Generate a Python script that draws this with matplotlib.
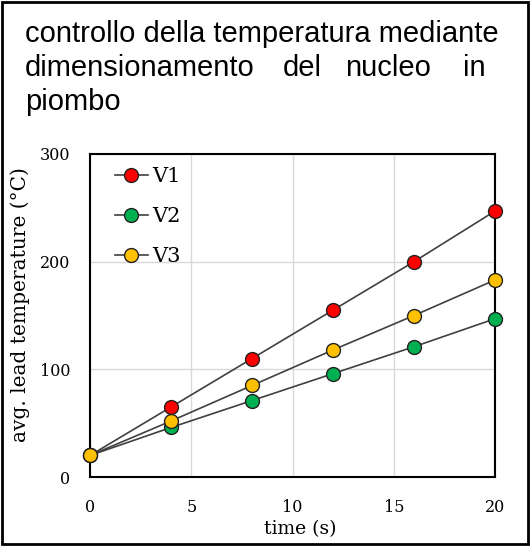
import matplotlib.pyplot as plt
from matplotlib.patches import Rectangle

# data
time_s = [0, 4, 8, 12, 16, 20]
v1 = [20, 65, 110, 155, 200, 247]
v2 = [20, 46, 71, 96, 121, 147]
v3 = [20, 52, 85, 118, 150, 183]
series_labels = ['V1', 'V2', 'V3']
series_colors = ['#FF0000', '#00B050', '#FFC000']

fig = plt.figure(figsize=(5.30, 5.46), dpi=100)

# outer frame
fig.patches.append(Rectangle((0.004, 0.003), 0.992, 0.994, transform=fig.transFigure,
                             fill=False, edgecolor='black', linewidth=2))

# title, justified by hand like the original
tkw = dict(family='Liberation Sans', fontsize=21, va='baseline')
W, H = 530.0, 546.0
fig.text(25 / W, 1 - 42 / H, 'controllo della temperatura mediante', ha='left', **tkw)
for word, x in [('dimensionamento', 25), ('del', 283), ('nucleo', 345)]:
    fig.text(x / W, 1 - 76 / H, word, ha='left', **tkw)
fig.text(486 / W, 1 - 76 / H, 'in', ha='right', **tkw)
fig.text(25 / W, 1 - 110 / H, 'piombo', ha='left', **tkw)

ax = fig.add_axes([90 / W, 1 - 477 / H, 405 / W, 323 / H])

for ys, lab, col in zip([v1, v2, v3], series_labels, series_colors):
    ax.plot(time_s, ys, color='#404040', linewidth=1.2, marker='o', markersize=10,
            markerfacecolor=col, markeredgecolor='#222222', markeredgewidth=1.0,
            label=lab, clip_on=False, zorder=3)

ax.set_xlim(0, 20)
ax.set_ylim(0, 300)
ax.set_xticks([0, 5, 10, 15, 20])
ax.set_yticks([0, 100, 200, 300])
ax.grid(True, color='#d9d9d9', linewidth=1.0)
ax.set_axisbelow(True)
for s in ax.spines.values():
    s.set_color('black')
    s.set_linewidth(1.5)
ax.tick_params(length=0, labelsize=11.5)
ax.tick_params(axis='x', pad=16)
ax.tick_params(axis='y', pad=14)
for t in ax.get_xticklabels() + ax.get_yticklabels():
    t.set_family('DejaVu Serif')

ax.set_xlabel('time (s)', family='DejaVu Serif', fontsize=13.5)
ax.set_ylabel('avg. lead temperature (°C)', family='DejaVu Serif', fontsize=14.5)
ax.xaxis.set_label_coords(0.52, -0.133)
ax.yaxis.set_label_coords(-0.148, 0.535)

ax.legend(loc='upper left', frameon=False, prop={'family': 'DejaVu Serif', 'size': 15},
          labelspacing=1.0, handlelength=1.6, handletextpad=0.2,
          borderaxespad=0.0, bbox_to_anchor=(0.04, 0.985))

fig.savefig('out.png', dpi=100)
